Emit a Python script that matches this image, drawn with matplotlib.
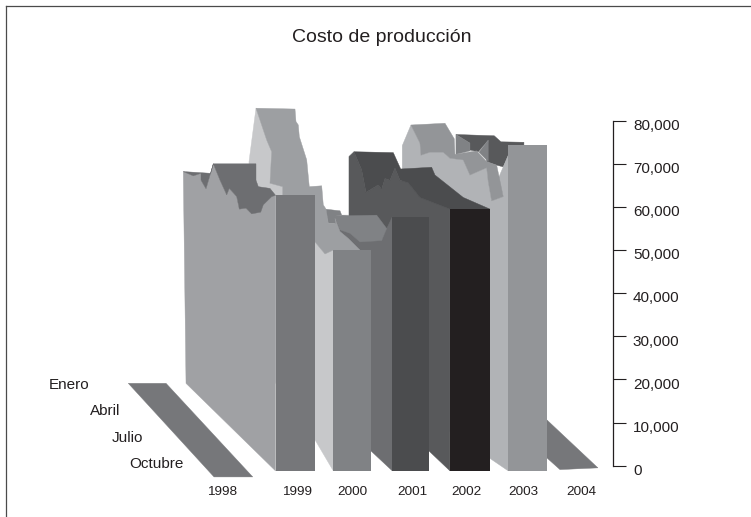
import matplotlib
matplotlib.use('Agg')
import matplotlib.pyplot as plt
from matplotlib.lines import Line2D
from matplotlib.transforms import ScaledTranslation

plt.rcParams['font.family'] = ['Liberation Sans', 'DejaVu Sans']

#%% Datos: el grafico 3D esta aplanado, x en anos sobre el piso, y en costo
years = ['1998', '1999', '2000', '2001', '2002', '2003', '2004']
year_pos = [1997.743, 1999.029, 1999.978, 2001.007, 2001.947, 2002.916, 2003.918]
months = ['Enero', 'Abril', 'Julio', 'Octubre']
cost_ticks = [0, 10000, 20000, 30000, 40000, 50000, 60000, 70000, 80000]
cost_labels = ['0', '10,000', '20,000', '30,000', '40,000', '50,000', '60,000', '70,000', '80,000']

floor = -1200

# caras frontales
face_left = [1998.666, 1999.657, 2000.669, 2001.658, 2002.658]
face_right = [1999.338, 2000.303, 2001.303, 2002.344, 2003.327]
face_top = [62700, 50000, 57700, 59500, 74400]

# cintas vacias de 1998 y 2004
ribbon98_x = [1996.141, 1996.788, 1998.275, 1997.611]
ribbon98_y = [19100, 19100, -2600, -2600]
ribbon04_x = [2003.322, 2004.196, 2003.545, 2003.322]
ribbon04_y = [10600, -500, -900, 1800]

# 2003
back03_x = [2001.761, 2002.418, 2002.533, 2002.927, 2002.927, 2002.658, 2002.658, 2002.572,
            2002.459, 2002.288, 2002.315, 2002.144, 2002.001, 2002.001]
back03_y = [76800, 76500, 75100, 75000, 74200, 74200, 72000, 69300,
            69700, 70500, 75500, 72800, 73200, 74800]
side03_x = [2001.761, 2002.001, 2002.001, 2001.761]
side03_y = [76800, 74800, 73000, 72200]
tri03_x = [2002.315, 2002.315, 2002.156]
tri03_y = [75500, 70500, 72700]
wall03_x = [2000.840, 2000.989, 2001.144, 2001.161, 2001.315, 2001.543, 2001.658, 2001.886, 2002.001,
            2002.288, 2002.315, 2002.373, 2002.572, 2002.487, 2002.658, 2002.658, 2002.344, 2000.840]
wall03_y = [74200, 79000, 74800, 72000, 72700, 72700, 71300, 70900, 67400,
            69100, 65900, 61400, 62400, 66600, 72000, -1200, 1700, 15200]
top03_x = [2000.989, 2001.573, 2001.732, 2001.744, 2002.116, 2002.288, 2002.459, 2002.572, 2002.373,
           2002.315, 2002.288, 2002.001, 2001.886, 2001.658, 2001.543, 2001.315, 2001.161, 2001.144]
top03_y = [79000, 79400, 75800, 72200, 73000, 70500, 69700, 62400, 61400,
           65900, 69100, 67400, 70900, 71300, 72700, 72700, 72000, 74800]

# 2002
wall02_x = [1999.926, 2000.012, 2000.144, 2000.218, 2000.429, 2000.487, 2000.544, 2000.629, 2000.715,
            2000.801, 2000.943, 2001.144, 2001.658, 2001.658, 2001.315, 1999.926]
wall02_y = [71700, 72800, 68600, 63400, 65100, 64200, 66600, 66200, 69000,
            66200, 65600, 62200, 59500, -1200, 3200, 19900]
top02_x = [2000.012, 2000.686, 2000.813, 2001.344, 2001.401, 2001.886, 2002.344, 2001.658, 2001.144,
           2000.943, 2000.801, 2000.715, 2000.629, 2000.544, 2000.487, 2000.429, 2000.218, 2000.144]
top02_y = [72800, 72600, 68800, 69200, 67400, 62200, 59500, 59500, 62200,
           65600, 66200, 69000, 66200, 66600, 64200, 65100, 63400, 68600]

# 2001
wall01_x = [1999.686, 1999.772, 1999.943, 2000.115, 2000.487, 2000.573, 2000.669, 2000.669, 2000.321, 1999.686]
wall01_y = [57900, 55100, 54000, 52100, 52200, 55000, 57700, -1200, 3200, 10600]
top01_x = [1999.686, 2000.401, 2000.573, 2000.487, 2000.115, 1999.943, 1999.772]
top01_y = [57900, 58100, 55000, 52200, 51900, 53900, 54700]
piece01_x = [1999.515, 1999.772, 1999.801, 1999.926, 1999.686, 1999.698, 1999.571]
piece01_y = [59500, 59100, 58100, 58100, 57900, 56200, 56200]

# 2000
wall00_x = [1998.211, 1998.331, 1998.515, 1998.600, 1998.571, 1998.789, 1998.789, 1999.343, 1999.515,
            1999.657, 1999.657, 1999.343, 1998.211]
wall00_y = [70500, 82900, 75500, 72800, 65500, 64700, 62300, 51900, 49100,
            50000, -1200, 6000, 28000]
top00_x = [1998.331, 1999.000, 1999.017, 1999.057, 1999.074, 1999.201, 1999.245, 1999.458, 1999.485,
           1999.532, 1999.571, 1999.698, 1999.686, 1999.772, 1999.914, 2000.115, 1999.657, 1999.515,
           1999.343, 1998.789, 1998.789, 1998.571, 1998.600, 1998.515]
top00_y = [82900, 82700, 79800, 79000, 76300, 70900, 64700, 64900, 60500,
           59500, 56200, 56200, 57400, 54300, 52700, 50000, 50000, 49100,
           51900, 62300, 64700, 65500, 72800, 75500]

# 1999
wall99_x = [1997.084, 1997.256, 1997.388, 1997.388, 1997.474, 1997.599, 1997.714, 1997.829, 1997.873,
            1998.000, 1998.045, 1998.160, 1998.257, 1998.412, 1998.456, 1998.600, 1998.666, 1998.666, 1997.131]
wall99_y = [68200, 67200, 67800, 66200, 64200, 70000, 66200, 62800, 64300,
            62400, 59500, 59700, 58400, 58800, 60500, 62400, 62700, -1200, 19100]
top99_x = [1997.084, 1997.554, 1997.599, 1998.331, 1998.331, 1998.371, 1998.571, 1998.666, 1998.600,
           1998.456, 1998.412, 1998.257, 1998.160, 1998.045, 1998.000, 1997.873, 1997.829, 1997.714,
           1997.599, 1997.474, 1997.388, 1997.388, 1997.256]
top99_y = [68200, 67800, 70000, 70000, 66200, 64700, 64300, 62700, 62400,
           60500, 58800, 58400, 59700, 59500, 62400, 64300, 62800, 66200,
           70000, 64200, 66200, 67800, 67200]

#%%
fig = plt.figure(figsize=(7.51, 5.17), dpi=100)
ax = fig.add_axes([0, 0, 1, 1])
ax.patch.set_visible(False)


def poly(x, y, color):
    ax.fill(x, y, color=color, lw=0.3)


def face(i, color):
    ax.bar(face_left[i], face_top[i] - floor, width=face_right[i] - face_left[i],
           bottom=floor, align='edge', color=color, lw=0)


# de atras hacia adelante, la serie de la derecha primero
poly(ribbon04_x, ribbon04_y, '#76777a')

poly(back03_x, back03_y, '#58595b')
poly(side03_x, side03_y, '#808285')
poly(tri03_x, tri03_y, '#808285')
poly(wall03_x, wall03_y, '#b1b3b6')
poly(top03_x, top03_y, '#939598')
face(4, '#939598')

poly(wall02_x, wall02_y, '#58595b')
poly(top02_x, top02_y, '#4b4c4e')
face(3, '#231f20')

poly(wall01_x, wall01_y, '#6d6e71')
poly(piece01_x, piece01_y, '#808285')
poly(top01_x, top01_y, '#808285')
face(2, '#4b4c4e')

poly(wall00_x, wall00_y, '#c7c8ca')
poly(top00_x, top00_y, '#9d9fa2')
face(1, '#808285')

poly(wall99_x, wall99_y, '#a0a1a4')
poly(top99_x, top99_y, '#6d6e71')
face(0, '#76777a')

poly(ribbon98_x, ribbon98_y, '#76777a')

ax.set_xlim(1993.940, 2006.822)
ax.set_ylim(-11895, 107987)

#%% ejes
for s in ['top', 'left']:
    ax.spines[s].set_visible(False)
ax.spines['right'].set_position(('data', 2004.463))
ax.spines['right'].set_bounds(0, 80000)
ax.spines['right'].set_color('#231f20')
ax.spines['right'].set_linewidth(0.9)
ax.spines['bottom'].set_position(('data', -4800))
ax.spines['bottom'].set_visible(False)

ax.yaxis.tick_right()
ax.set_yticks(cost_ticks, cost_labels)
ax.tick_params(axis='y', direction='out', length=9.5, width=0.8, color='#231f20',
               labelsize=11, labelcolor='#231f20', pad=4.5)
down = ScaledTranslation(0, -3.8 / 100, fig.dpi_scale_trans)
for lab in ax.get_yticklabels():
    lab.set_transform(lab.get_transform() + down)

ax.set_xticks(year_pos, years)
ax.tick_params(axis='x', length=0, labelsize=9.7, labelcolor='#231f20', pad=0)

#%% textos
month_x = [1994.77, 1995.49, 1995.85, 1996.15]
month_cost = [18800, 12700, 6400, 300]
for m, x_, y_ in zip(months, month_x, month_cost):
    ax.text(x_, y_, m, fontsize=11, color='#231f20', ha='left', va='center')

ax.text(1999.0 + 87 / 58.3, 99300, 'Costo de producción', fontsize=14, color='#231f20',
        ha='center', va='center')

# marco de la pagina, solo arriba e izquierda
frame = dict(color='#4a4a4a', lw=0.9, transform=fig.transFigure)
fig.add_artist(Line2D([0.0076, 0.0076], [0, 0.9878], **frame))
fig.add_artist(Line2D([0.0076, 1], [0.9878, 0.9878], **frame))

fig.savefig('out.png', dpi=100)
